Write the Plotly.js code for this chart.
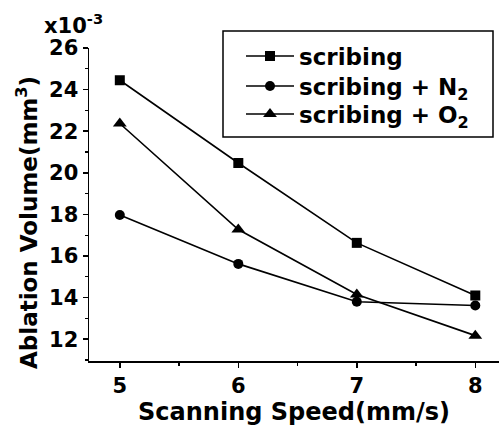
<!DOCTYPE html>
<html><head><meta charset="utf-8">
<script src="https://cdn.plot.ly/plotly-3.0.1.min.js"></script>
<style>body{margin:0;background:#fff}#c{width:499px;height:429px}</style>
</head><body><div id="c"></div>
<script>
const speed = [5, 6, 7, 8];
const scribing = [24.45, 20.47, 16.63, 14.1];
const scribingN2 = [17.97, 15.62, 13.8, 13.62];
const scribingO2 = [22.37, 17.27, 14.15, 12.17];
const seriesNames = ['scribing', 'scribing + N<sub>2</sub>', 'scribing + O<sub>2</sub>'];
const yTicks = [12, 14, 16, 18, 20, 22, 24, 26];
const xTicks = [5, 6, 7, 8];

const F = 'DejaVu Sans, sans-serif';
const symbols = ['square', 'circle', 'triangle-up'];
const sizes = [10, 10, 12];
const legendIds = ['legend', 'legend2', 'legend3'];
const data = [scribing, scribingN2, scribingO2].map((ys, i) => ({
  x: speed, y: ys, type: 'scatter', mode: 'lines+markers', name: seriesNames[i],
  legend: legendIds[i],
  line: {color: '#000', width: 1.6},
  marker: {symbol: symbols[i], size: sizes[i], color: '#000'}
}));

const L = 89, T = 48, W = 410, H = 313;
const px = v => (v - L) / W, py = v => (T + H - v) / H;
const legendRow = yc => ({
  x: px(241), y: py(yc), xanchor: 'left', yanchor: 'middle',
  borderwidth: 0, bgcolor: 'rgba(0,0,0,0)',
  font: {family: F, size: 23, color: '#000', weight: 'bold'},
  itemwidth: 48
});

const layout = {
  width: 499, height: 429,
  margin: {l: L, r: 0, t: T, b: 68},
  paper_bgcolor: '#fff', plot_bgcolor: '#fff',
  font: {family: F, color: '#000'},
  showlegend: true,
  legend: legendRow(56),
  legend2: legendRow(86),
  legend3: legendRow(114),
  shapes: [{
    type: 'rect', xref: 'paper', yref: 'paper',
    x0: px(223), x1: px(493), y0: py(137), y1: py(31),
    line: {color: '#000', width: 1.5}, fillcolor: 'rgba(0,0,0,0)', layer: 'below'
  }],
  xaxis: {
    range: [4.74, 8.2], tickvals: xTicks, ticktext: xTicks.map(String),
    showgrid: false, zeroline: false, showline: true, linecolor: '#000', linewidth: 1.5,
    ticks: 'outside', ticklen: 5, tickwidth: 1.5, tickcolor: '#000',
    minor: {dtick: 0.5, tick0: 5, ticks: 'outside', ticklen: 3, tickwidth: 1.2, tickcolor: '#000'},
    tickfont: {family: F, size: 21, weight: 'bold'},
    title: {text: 'Scanning Speed(mm/s)', font: {family: F, size: 24, weight: 'bold'}, standoff: 5}
  },
  yaxis: {
    range: [10.95, 26], tickvals: yTicks, ticktext: yTicks.map(String),
    showgrid: false, zeroline: false, showline: true, linecolor: '#000', linewidth: 1.5,
    ticks: 'outside', ticklen: 5, tickwidth: 1.5, tickcolor: '#000',
    minor: {dtick: 1, tick0: 12, ticks: 'outside', ticklen: 3, tickwidth: 1.2, tickcolor: '#000'},
    tickfont: {family: F, size: 21, weight: 'bold'}
  },
  annotations: [{
    xref: 'paper', yref: 'paper', x: px(42), y: py(40),
    xanchor: 'left', yanchor: 'bottom', showarrow: false,
    text: 'x10<sup>-3</sup>', font: {family: F, size: 21, weight: 'bold', color: '#000'}
  }, {
    xref: 'paper', yref: 'paper', x: px(27), y: py(223),
    xanchor: 'center', yanchor: 'middle', showarrow: false, textangle: -90,
    text: 'Ablation Volume(mm<sup>3</sup>)', font: {family: F, size: 23, weight: 'bold', color: '#000'}
  }]
};
Plotly.newPlot('c', data, layout, {staticPlot: true});
</script></body></html>
